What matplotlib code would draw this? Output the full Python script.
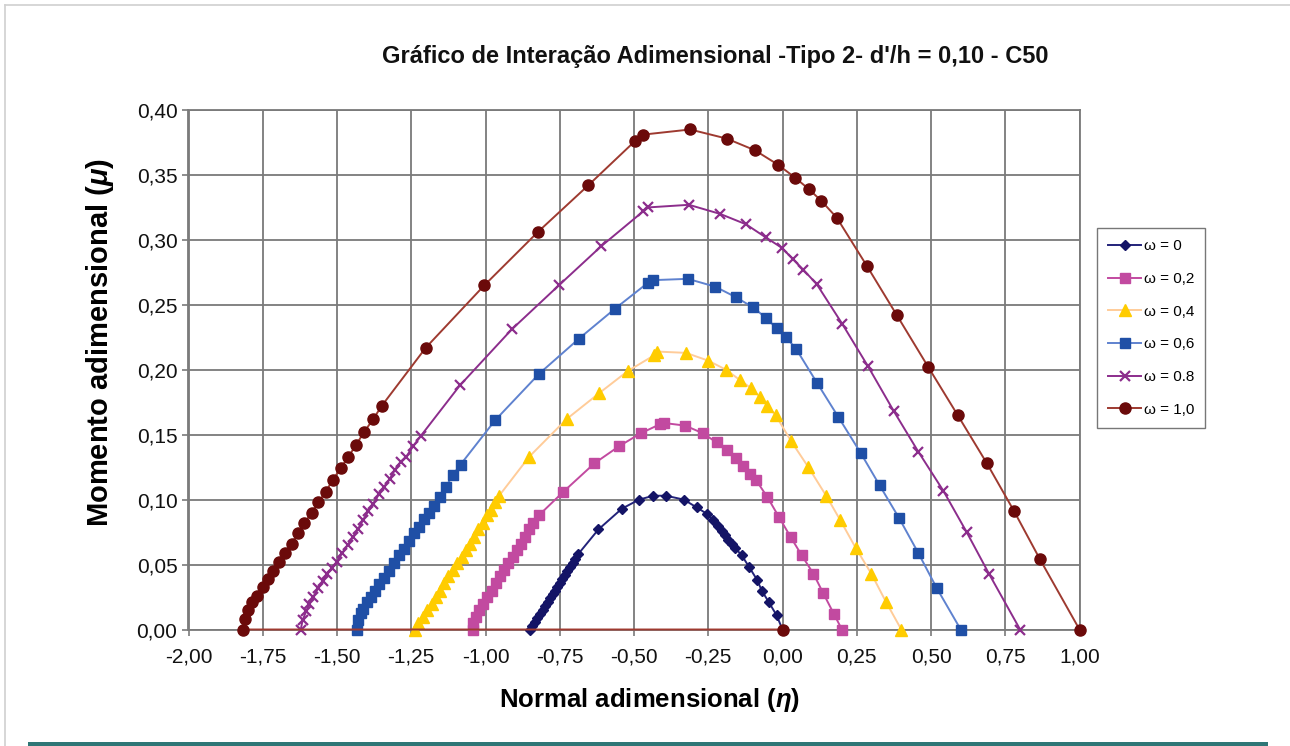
import matplotlib
matplotlib.use("Agg")
import matplotlib.pyplot as plt
from matplotlib.lines import Line2D
from matplotlib.patches import Rectangle

plt.rcParams['font.family'] = ['Liberation Sans', 'DejaVu Sans']
plt.rcParams['mathtext.fontset'] = 'custom'
plt.rcParams['mathtext.rm'] = 'Liberation Sans:bold'
plt.rcParams['mathtext.it'] = 'Liberation Sans:bold:italic'

# Interaction curves: normal force (eta) vs bending moment (mu)
eta_w00 = [-0.850, -0.842, -0.833, -0.825, -0.816, -0.808, -0.800, -0.791, -0.783, -0.774,
           -0.766, -0.758, -0.749, -0.741, -0.732, -0.724, -0.716, -0.707, -0.699, -0.688,
           -0.620, -0.541, -0.483, -0.435, -0.392, -0.332, -0.289, -0.254, -0.233, -0.216,
           -0.205, -0.194, -0.183, -0.171, -0.160, -0.137, -0.112, -0.085, -0.070, -0.046,
           -0.020, 0.000]
mu_w00 = [0.000, 0.003, 0.006, 0.009, 0.012, 0.015, 0.018, 0.021, 0.024, 0.027,
          0.030, 0.033, 0.036, 0.039, 0.042, 0.045, 0.048, 0.051, 0.054, 0.058,
          0.077, 0.093, 0.100, 0.103, 0.103, 0.100, 0.094, 0.089, 0.084, 0.080,
          0.076, 0.073, 0.069, 0.066, 0.063, 0.057, 0.048, 0.038, 0.030, 0.021,
          0.011, 0.000]

eta_w02 = [-1.041, -1.041, -1.032, -1.021, -1.007, -0.994, -0.979, -0.965, -0.951, -0.938,
           -0.923, -0.908, -0.895, -0.882, -0.867, -0.853, -0.839, -0.820, -0.738, -0.633,
           -0.551, -0.478, -0.413, -0.399, -0.328, -0.267, -0.222, -0.186, -0.158, -0.132,
           -0.108, -0.089, -0.051, -0.013, 0.028, 0.065, 0.104, 0.137, 0.173, 0.200]
mu_w02 = [0.000, 0.005, 0.010, 0.015, 0.020, 0.025, 0.030, 0.036, 0.041, 0.046,
          0.051, 0.056, 0.061, 0.066, 0.071, 0.077, 0.082, 0.088, 0.106, 0.128,
          0.141, 0.151, 0.158, 0.159, 0.157, 0.151, 0.144, 0.138, 0.132, 0.126,
          0.120, 0.115, 0.102, 0.087, 0.071, 0.057, 0.043, 0.028, 0.012, 0.000]

eta_w04 = [-1.237, -1.226, -1.211, -1.198, -1.181, -1.167, -1.153, -1.139, -1.125, -1.108,
           -1.095, -1.080, -1.066, -1.052, -1.039, -1.024, -1.009, -0.994, -0.983, -0.968,
           -0.954, -0.853, -0.727, -0.617, -0.521, -0.433, -0.422, -0.325, -0.250, -0.190,
           -0.143, -0.107, -0.076, -0.051, -0.023, 0.029, 0.087, 0.147, 0.195, 0.246,
           0.299, 0.349, 0.400]
mu_w04 = [0.000, 0.005, 0.010, 0.015, 0.020, 0.025, 0.030, 0.036, 0.041, 0.046,
          0.051, 0.056, 0.061, 0.066, 0.071, 0.077, 0.082, 0.088, 0.092, 0.098,
          0.103, 0.133, 0.162, 0.182, 0.199, 0.211, 0.214, 0.213, 0.207, 0.200,
          0.192, 0.186, 0.179, 0.172, 0.165, 0.145, 0.125, 0.103, 0.084, 0.063,
          0.043, 0.021, 0.000]

eta_w06 = [-1.432, -1.428, -1.420, -1.411, -1.400, -1.387, -1.372, -1.358, -1.342, -1.325,
           -1.308, -1.290, -1.274, -1.257, -1.240, -1.223, -1.206, -1.189, -1.172, -1.153,
           -1.133, -1.110, -1.084, -0.968, -0.819, -0.685, -0.564, -0.453, -0.435, -0.319,
           -0.227, -0.158, -0.099, -0.056, -0.020, 0.012, 0.046, 0.116, 0.187, 0.263,
           0.327, 0.392, 0.457, 0.519, 0.600]
mu_w06 = [0.000, 0.007, 0.013, 0.016, 0.021, 0.025, 0.030, 0.035, 0.040, 0.045,
          0.051, 0.057, 0.062, 0.068, 0.074, 0.079, 0.085, 0.090, 0.095, 0.102,
          0.110, 0.119, 0.127, 0.161, 0.197, 0.224, 0.247, 0.267, 0.269, 0.270,
          0.264, 0.256, 0.248, 0.240, 0.232, 0.225, 0.216, 0.190, 0.164, 0.136,
          0.111, 0.086, 0.059, 0.032, 0.000]

eta_w08 = [-1.622, -1.616, -1.604, -1.593, -1.580, -1.563, -1.548, -1.535, -1.518, -1.501,
           -1.482, -1.464, -1.447, -1.430, -1.413, -1.395, -1.378, -1.359, -1.341, -1.322,
           -1.305, -1.286, -1.267, -1.244, -1.218, -1.086, -0.912, -0.753, -0.611, -0.469,
           -0.452, -0.315, -0.210, -0.123, -0.057, -0.003, 0.036, 0.070, 0.115, 0.202,
           0.287, 0.375, 0.457, 0.541, 0.620, 0.695, 0.800]
mu_w08 = [0.000, 0.007, 0.014, 0.020, 0.025, 0.032, 0.037, 0.043, 0.047, 0.052,
          0.059, 0.065, 0.071, 0.077, 0.084, 0.091, 0.097, 0.104, 0.110, 0.116,
          0.123, 0.129, 0.133, 0.141, 0.149, 0.188, 0.231, 0.265, 0.295, 0.322,
          0.325, 0.327, 0.320, 0.312, 0.302, 0.294, 0.285, 0.277, 0.266, 0.235,
          0.203, 0.168, 0.137, 0.107, 0.075, 0.043, 0.000]

eta_w10 = [0.000, -1.816, -1.810, -1.799, -1.787, -1.768, -1.750, -1.733, -1.715, -1.695,
           -1.675, -1.653, -1.632, -1.610, -1.585, -1.563, -1.538, -1.515, -1.488, -1.462,
           -1.436, -1.409, -1.378, -1.350, -1.201, -1.004, -0.824, -0.654, -0.497, -0.471,
           -0.311, -0.188, -0.093, -0.016, 0.042, 0.089, 0.131, 0.183, 0.284, 0.385,
           0.491, 0.590, 0.688, 0.780, 0.867, 1.000]
mu_w10 = [0.000, 0.000, 0.008, 0.015, 0.021, 0.026, 0.033, 0.039, 0.045, 0.052,
          0.059, 0.066, 0.074, 0.082, 0.090, 0.098, 0.106, 0.115, 0.124, 0.133,
          0.142, 0.152, 0.162, 0.172, 0.217, 0.265, 0.306, 0.342, 0.376, 0.381,
          0.385, 0.378, 0.369, 0.358, 0.348, 0.339, 0.330, 0.317, 0.280, 0.242,
          0.202, 0.165, 0.128, 0.091, 0.054, 0.000]

labels = ["ω = 0", "ω = 0,2", "ω = 0,4", "ω = 0,6", "ω = 0.8", "ω = 1,0"]
x_ticks = [-2.00, -1.75, -1.50, -1.25, -1.00, -0.75, -0.50, -0.25, 0.00, 0.25, 0.50, 0.75, 1.00]
y_ticks = [0.00, 0.05, 0.10, 0.15, 0.20, 0.25, 0.30, 0.35, 0.40]

series = [
    (eta_w00, mu_w00, dict(color='#23237a', marker='D', ms=5.5, mfc='#141466', mec='#141466')),
    (eta_w02, mu_w02, dict(color='#c24aa0', marker='s', ms=7, mfc='#c24aa0', mec='#c24aa0')),
    (eta_w04, mu_w04, dict(color='#ffcc99', marker='^', ms=8, mfc='#ffcc00', mec='#ffcc00')),
    (eta_w06, mu_w06, dict(color='#5f82cf', marker='s', ms=7, mfc='#1f4fa6', mec='#1f4fa6')),
    (eta_w08, mu_w08, dict(color='#8c2d8c', marker='x', ms=7, mfc='#8c2d8c', mec='#8c2d8c', mew=1.6)),
    (eta_w10, mu_w10, dict(color='#9e3a30', marker='o', ms=8, mfc='#6b0a0a', mec='#6b0a0a')),
]

fig = plt.figure(figsize=(12.9, 7.46), dpi=100)
ax = fig.add_axes([188.5 / 1290, 1 - 629.5 / 746, 891 / 1290, 519.5 / 746])

handles = []
for (x, y, st), lab in zip(series, labels):
    h, = ax.plot(x, y, lw=1.4, label=lab, zorder=3, clip_on=False, **st)
    handles.append(h)

ax.set_xlim(-2.0, 1.0)
ax.set_ylim(0.0, 0.40)
ax.set_xticks(x_ticks)
ax.set_yticks(y_ticks)
ax.set_xticklabels([f"{v:.2f}".replace('.', ',') for v in x_ticks])
ax.set_yticklabels([f"{v:.2f}".replace('.', ',') for v in y_ticks])
ax.grid(True, color='#7a7a7a', lw=1.3, zorder=0)
ax.set_axisbelow(True)
for s in ax.spines.values():
    s.set_color('#7a7a7a')
    s.set_linewidth(1.3)
ax.tick_params(direction='out', length=4, color='#7a7a7a', width=1.2,
               labelsize=15, pad=4, labelcolor='#111111')
ax.tick_params(axis='x', pad=9)

ax.set_xlabel(r"Normal adimensional ($\eta$)", fontsize=18.5, fontweight='bold')
ax.set_ylabel(r"Momento adimensional ($\mu$)", fontsize=21, fontweight='bold')
ax.xaxis.set_label_coords((650 - 188.5) / 891, -(700 - 629.5) / 519.5)
ax.yaxis.set_label_coords(-(188.5 - 100) / 891, (629.5 - 342) / 519.5)
ax.xaxis.label.set_va('center')
ax.yaxis.label.set_va('center')

fig.text(715 / 1290, 1 - 57 / 746, "Gráfico de Interação Adimensional -Tipo 2- d'/h = 0,10 - C50",
         ha='center', va='center', fontsize=17, fontweight='bold', color='#111111')

leg = fig.legend(handles=handles, loc='upper left', bbox_to_anchor=(1097 / 1290, 1 - 228 / 746),
                 frameon=True, fancybox=False, fontsize=11, handlelength=2.1, handletextpad=0.2,
                 labelspacing=1.22, borderpad=0.75, borderaxespad=0)
leg.get_frame().set_edgecolor('#555555')
leg.get_frame().set_linewidth(1.0)

# page frame and footer bar
fig.add_artist(Line2D([5 / 1290, 1], [1 - 5 / 746, 1 - 5 / 746], color='#d0d0d0', lw=1.2))
fig.add_artist(Line2D([5 / 1290, 5 / 1290], [0, 1 - 5 / 746], color='#d0d0d0', lw=1.2))
fig.add_artist(Rectangle((28 / 1290, 0), (1268 - 28) / 1290, 4.5 / 746,
                         transform=fig.transFigure, color='#2e7676', lw=0))

fig.savefig("out.png", dpi=100)
